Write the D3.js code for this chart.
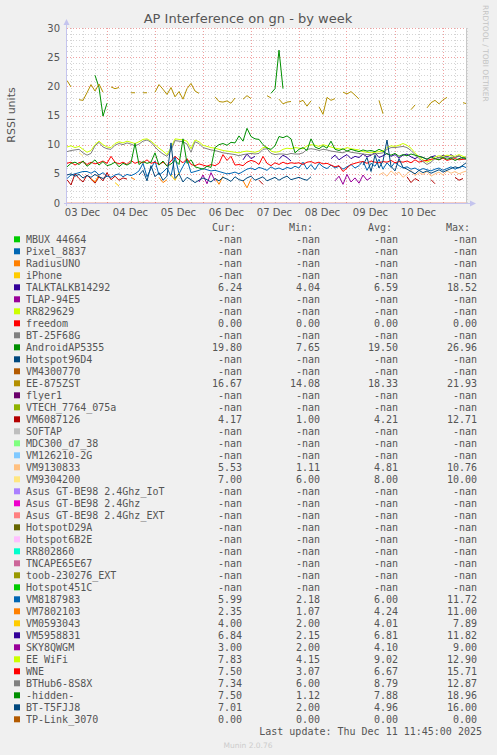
<!DOCTYPE html>
<html><head><meta charset="utf-8">
<script src="https://cdn.jsdelivr.net/npm/d3@7"></script>
<style>
html,body{margin:0;padding:0;background:#f0f0f0;}
svg{display:block;}
</style></head><body>
<script>
const _ = null;
const SLOTS = 101; // 2-hour slots across the week window

// ---- legend data ----
const names = ["MBUX 44664","Pixel_8837","RadiusUNO","iPhone","TALKTALKB14292","TLAP-94E5","RR829629","freedom","BT-25F68G","AndroidAP5355","Hotspot96D4","VM4300770","EE-875ZST","flyer1","VTECH_7764_075a","VM6087126","SOFTAP","MDC300_d7_38","VM126210-2G","VM9130833","VM9304200","Asus GT-BE98 2.4Ghz_IoT","Asus GT-BE98 2.4Ghz","Asus GT-BE98 2.4Ghz_EXT","HotspotD29A","Hotspot6B2E","RR802860","TNCAPE65E67","toob-230276_EXT","Hotspot451C","VM8187983","VM7802103","VM0593043","VM5958831","SKY8QWGM","EE WiFi","WNE","BTHub6-8S8X","-hidden-","BT-T5FJJ8","TP-Link_3070"];
const palette = ["#00CC00","#0066B3","#FF8000","#FFCC00","#330099","#990099","#CCFF00","#FF0000","#808080","#008F00","#00487D","#B35A00","#B38F00","#6B006B","#8FB300","#B30000","#BEBEBE","#80FF80","#80C9FF","#FFC080","#FFE680","#AA80FF","#EE00CC","#FF8080","#666600","#FFBFFF","#00FFCC","#CC6699","#999900"];
const N = "-nan";
const curVals = [N,N,N,N,"6.24",N,N,"0.00",N,"19.80",N,N,"16.67",N,N,"4.17",N,N,N,"5.53","7.00",N,N,N,N,N,N,N,N,N,"5.99","2.35","4.00","6.84","3.00","7.83","7.50","7.34","7.50","7.01","0.00"];
const minVals = [N,N,N,N,"4.04",N,N,"0.00",N,"7.65",N,N,"14.08",N,N,"1.00",N,N,N,"1.11","6.00",N,N,N,N,N,N,N,N,N,"2.18","1.07","2.00","2.15","2.00","4.15","3.07","6.00","1.12","2.00","0.00"];
const avgVals = [N,N,N,N,"6.59",N,N,"0.00",N,"19.50",N,N,"18.33",N,N,"4.21",N,N,N,"4.81","8.00",N,N,N,N,N,N,N,N,N,"6.00","4.24","4.01","6.81","4.10","9.02","6.67","8.79","7.88","4.96","0.00"];
const maxVals = [N,N,N,N,"18.52",N,N,"0.00",N,"26.96",N,N,"21.93",N,N,"12.71",N,N,N,"10.76","10.00",N,N,N,N,N,N,N,N,N,"11.72","11.00","7.89","11.82","9.00","12.90","15.71","12.87","18.96","16.00","0.00"];
const yTicks = [0,5,10,15,20,25,30];
const dayLabels = ["03 Dec","04 Dec","05 Dec","06 Dec","07 Dec","08 Dec","09 Dec","10 Dec"];

// ---- series values (2-hour slots, null = no data) ----
const eeWifi = [9.6,9.8,9.5,9.7,9.2,8.7,9.0,10.0,10.6,10.0,
 9.6,9.5,10.2,10.5,10.3,10.6,10.4,10.2,10.5,10.9,
 11.0,10.6,10.0,9.4,8.9,8.3,9.5,11.0,10.9,10.8,
 10.6,9.3,10.8,10.5,9.9,9.7,9.5,9.4,9.2,9.0,
 8.9,8.8,8.7,8.6,8.8,8.9,8.8,8.7,8.9,9.5,
 9.6,8.9,8.7,8.8,9.2,9.4,9.3,9.5,9.4,9.3,
 9.8,10.0,9.9,9.7,10.0,9.8,9.6,9.4,9.3,9.2,
 9.5,9.3,9.2,9.1,8.8,8.7,8.6,8.7,8.8,8.9,
 9.5,9.8,9.7,9.9,10.2,9.9,9.4,8.6,7.9,7.4,
 7.0,7.3,7.9,8.1,8.0,8.2,8.1,8.0,8.3,8.0,7.8];
const btHub6 = [8.8,9.0,9.1,9.2,8.6,8.2,8.5,9.8,10.4,9.6,
 9.3,9.2,9.9,10.2,10.0,10.3,10.1,9.8,10.1,10.6,
 10.8,10.4,9.6,8.9,8.4,8.0,9.0,10.7,10.6,10.5,
 10.1,8.7,10.5,10.2,9.5,9.3,9.1,9.0,8.8,8.6,
 8.5,8.4,8.3,8.1,8.3,8.4,8.5,8.4,8.5,9.2,
 9.3,8.5,8.3,8.4,8.4,8.3,8.5,8.4,8.4,8.6,
 9.2,9.3,9.2,9.0,9.2,9.1,8.9,8.8,8.7,8.6,
 8.9,8.7,8.6,8.5,8.4,8.3,8.3,8.4,8.5,8.6,
 9.2,9.5,9.5,9.6,9.7,9.5,9.0,8.3,7.6,7.1,
 6.6,7.0,7.6,7.8,7.8,7.9,7.8,7.8,8.0,7.7,7.4];
const hidden = [6.2,6.8,7.0,6.6,7.2,6.3,6.8,7.4,6.5,7.1,
 6.4,6.6,7.0,6.2,6.8,6.5,6.9,10.2,6.6,7.1,
 6.8,7.0,8.6,6.5,7.2,6.3,6.7,7.3,6.6,11.0,
 6.8,7.4,6.2,6.0,5.8,6.3,6.1,9.5,10.0,10.2,
 9.9,10.4,10.3,11.5,10.6,12.8,11.4,11.0,10.9,10.0,
 9.4,9.2,9.8,11.4,11.2,11.5,11.0,8.6,9.2,9.5,
 9.0,11.0,9.6,9.3,9.8,9.4,10.6,9.2,9.0,9.3,
 8.9,9.2,9.0,8.8,9.1,8.9,9.0,8.8,9.2,8.9,
 8.4,8.2,8.5,8.0,8.3,8.1,8.4,8.2,8.0,7.8,
 7.5,7.9,7.6,7.4,7.8,7.5,7.7,7.3,7.6,7.8,7.5];
const wne = [6.8,7.0,6.5,6.9,7.1,6.6,7.0,6.7,6.9,7.2,
 6.8,8.0,7.0,6.7,7.0,6.6,7.3,6.8,7.1,6.9,
 7.4,6.8,7.0,6.6,7.0,6.4,7.2,8.0,7.4,6.9,
 7.6,6.6,6.4,6.7,6.5,6.3,6.6,6.4,6.8,8.3,
 7.3,8.0,6.5,6.6,6.4,7.0,7.3,7.1,6.6,8.0,
 6.8,6.4,6.9,6.6,7.0,6.7,6.9,6.8,6.9,6.6,
 7.0,7.1,6.8,7.0,6.7,6.8,6.5,6.2,6.4,5.4,
 6.0,6.6,6.8,7.0,7.1,6.8,7.2,7.0,6.9,7.1,
 7.0,7.3,6.9,7.1,7.0,7.2,6.9,7.4,7.0,7.2,
 7.3,7.5,7.6,7.4,7.7,7.3,7.5,7.6,7.4,7.5,7.5];
const vm8187983 = [4.2,4.8,5.0,5.2,5.4,5.4,5.1,5.5,4.8,5.2,
 4.6,4.4,4.8,5.0,4.5,4.9,4.7,5.0,5.5,6.8,
 4.5,5.9,7.2,4.8,5.3,6.0,4.6,8.0,5.0,6.3,
 7.5,5.2,5.4,5.6,5.9,5.7,5.5,5.6,5.4,5.2,
 5.0,5.1,5.3,5.0,5.4,5.8,6.0,5.7,6.1,5.9,
 5.6,6.2,5.8,6.0,5.7,6.1,5.9,6.3,6.0,7.0,
 5.8,6.6,5.7,6.8,6.2,5.9,6.5,6.0,6.3,5.8,
 6.2,6.6,6.0,6.4,7.2,5.6,6.8,6.3,7.5,5.8,
 6.9,6.1,7.0,6.4,6.0,6.2,5.8,6.0,5.6,5.9,
 5.7,5.5,5.8,6.0,5.6,5.9,6.2,5.8,6.1,6.3,6.0];
const btT5fjj8 = [4.8,5.0,4.6,4.9,4.3,4.7,4.4,4.9,4.5,4.2,
 4.6,_,_,_,_,_,_,_,4.8,5.6,
 3.8,6.4,4.5,5.2,3.9,4.6,10.3,4.2,5.0,3.6,
 4.4,4.0,3.5,3.9,4.3,4.0,3.6,4.2,3.8,4.4,
 4.1,3.7,4.5,4.0,3.8,4.3,4.6,3.9,4.2,4.5,
 3.8,4.1,4.4,3.9,4.3,4.6,4.0,4.2,4.4,4.1,
 3.9,4.5,_,_,_,_,_,_,_,_,
 _,_,_,_,6.5,7.8,5.4,8.2,6.0,7.2,
 10.8,6.3,5.5,7.6,6.1,5.8,5.4,5.0,5.6,5.2,
 5.5,5.1,5.4,5.7,5.3,5.6,5.9,6.2,6.0,6.5,7.0];

// sparse series: [first slot, values...]
const vm6087126Segs = [[0,[4.0,3.1,5.0,4.2,3.6,4.8,4.1,3.4,4.5,3.8,5.2,4.0,4.6,3.9,4.3,4.1]],[48,[3.9,3.2]],[85,[4.5,3.5,4.2,3.8]],[91,[4.0,3.3]],[97,[4.4,3.9,4.2]]];
const vm7802103Segs = [[6,[4.2,3.6,4.8]],[16,[4.4,4.0]],[23,[4.4,3.5,4.0]],[37,[4.3,3.2,4.6]],[44,[3.8,2.6,4.1]]];
const vm0593043Segs = [[12,[3.5,2.9]],[26,[4.8,3.9,5.2]]];
const vm9304200Segs = [[3,[8.6,8.1]]];
const vm9130833Segs = [[78,[4.8,5.2,4.6,5.5,4.9,5.3,4.4,5.0,5.6,4.7,5.2,4.9,5.4,4.6,5.0,5.3,4.8,5.5,5.1,5.4,5.0,5.3,5.5]]];
const talktalkSegs = [[44,[7.4,8.4,7.6,8.0]],[53,[7.5,8.2,7.8,7.2]]];
const vm5958831Segs = [[66,[7.6,8.2,7.4,7.9,8.3,7.6,8.0,7.8,8.4,7.9,8.2,8.6,7.8,8.1,8.5,8.0,8.3,7.7,8.2,8.4,7.9,7.6,8.0,7.8,7.5,7.9,8.1,7.7,8.2,7.9,8.3,7.8,8.1,7.6,8.0]]];
const sky8qwgmSegs = [[33,[3.6,4.8,3.3,5.2,3.8]],[67,[3.8,4.6,3.2,4.9,3.6,4.3,3.4,4.8,3.9,4.4]]];
const ee875Segs = [[0,[21.0,19.9]],[3,[17.7,17.6]],[5,[18.9,20.3,19.2,20.4,19.0]],[11,[19.9,19.6,19.8]],[16,[18.9,18.9]],[19,[18.9,18.9]],
 [22,[19.0,20.3,19.5,18.6,19.8,18.2,19.1,17.8,19.6,20.5,19.2,18.8]],[37,[18.2,17.4,17.3,17.5,17.1,18.0]],[44,[17.8,18.4,17.9]],[50,[18.4,18.0]],
 [53,[17.8,17.0,17.3,17.4]],[58,[17.3,17.6,16.6,17.5]],[63,[16.5,15.2,18.1,17.6,17.9]],[69,[19.0,18.7,19.1,18.5,17.8]],[78,[17.6,15.3]],
 [86,[16.0,16.8]],[90,[16.3,17.2,17.6,17.0,17.7,18.1]],[99,[17.2,17.0]]];
const androidSegs = [[7,[21.9,19.8,14.9,17.1]],[51,[18.8,19.6,26.2,19.6]]];
const zeroSegs = [[0,[0,0,0,0,0,0,0,0,0,0,0,0,0,0,0,0,0,0,0,0,0,0,0,0,0,0,0,0,0,0,0,0,0,0,0,0,0,0,0,0,0,0,0,0,0,0,0,0,0,0,0,0,0,0,0,0,0,0,0,0,0,0,0,0,0,0,0,0,0,0,0,0,0,0,0,0,0,0,0,0,0,0,0,0,0,0,0,0,0,0,0,0,0,0,0,0,0,0,0,0,0]]];

function place(segs){
  const a = new Array(SLOTS).fill(null);
  segs.forEach(([s, vals]) => vals.forEach((v,k) => { a[s+k] = v; }));
  return a;
}
const seriesData = {
  "TALKTALKB14292": place(talktalkSegs),
  "freedom": place(zeroSegs),
  "AndroidAP5355": place(androidSegs),
  "EE-875ZST": place(ee875Segs),
  "VM6087126": place(vm6087126Segs),
  "VM9130833": place(vm9130833Segs),
  "VM9304200": place(vm9304200Segs),
  "VM8187983": vm8187983,
  "VM7802103": place(vm7802103Segs),
  "VM0593043": place(vm0593043Segs),
  "VM5958831": place(vm5958831Segs),
  "SKY8QWGM": place(sky8qwgmSegs),
  "EE WiFi": eeWifi,
  "WNE": wne,
  "BTHub6-8S8X": btHub6,
  "-hidden-": hidden,
  "BT-T5FJJ8": btT5fjj8,
  "TP-Link_3070": place(zeroSegs)
};

// ---- layout ----
const W = 497, H = 755;
const L = 67, R = 467, T = 28, B = 203;
const start = Date.UTC(2025,11,3,4,15);
const end = start + 200*3600*1000;
const times = d3.range(SLOTS).map(i => new Date(start + i*2*3600*1000));

const x = d3.scaleUtc().domain([new Date(start), new Date(end)]).range([L, R]);
const y = d3.scaleLinear().domain([0,30]).range([B, T]);

const svg = d3.select("body").append("svg").attr("width", W).attr("height", H);
svg.append("rect").attr("width", W).attr("height", H).attr("fill", "#f0f0f0");
svg.append("rect").attr("x", L).attr("y", T).attr("width", R-L).attr("height", B-T).attr("fill", "#ffffff");

const font = "DejaVu Sans, sans-serif";
const mono = "DejaVu Sans Mono, monospace";

// grid
const g = svg.append("g");
d3.range(1,31).forEach(v => {
  const major = v % 5 === 0;
  g.append("line").attr("x1", L).attr("x2", R).attr("y1", Math.round(y(v))+0.5).attr("y2", Math.round(y(v))+0.5)
    .attr("stroke", major ? "#f0a0a0" : "#d4d4d4").attr("stroke-dasharray", "1,2").attr("stroke-width", 1);
});
d3.utcHour.every(6).range(new Date(start), new Date(end)).forEach(t => {
  const major = t.getUTCHours() === 0;
  const xx = Math.round(x(t)) + 0.5;
  g.append("line").attr("x1", xx).attr("x2", xx).attr("y1", T).attr("y2", B)
    .attr("stroke", major ? "#f0a0a0" : "#d4d4d4").attr("stroke-dasharray", "1,2").attr("stroke-width", 1);
});

// series
svg.append("clipPath").attr("id","clip").append("rect").attr("x", L).attr("y", T-2).attr("width", R-L).attr("height", B-T+3);
const line = d3.line().defined(v => v != null).x((v,i) => x(times[i])).y(v => y(v));
const sg = svg.append("g").attr("clip-path", "url(#clip)");
names.forEach((n, i) => {
  const d = seriesData[n];
  if (!d) return;
  sg.append("path").datum(d).attr("d", line).attr("fill", "none")
    .attr("stroke", palette[i % palette.length]).attr("stroke-width", 1).attr("stroke-linejoin", "round")
    .attr("stroke-opacity", d.every(v => v === 0) ? 0.25 : 1);
});

// right border
svg.append("line").attr("x1", R-0.5).attr("x2", R-0.5).attr("y1", T).attr("y2", B).attr("stroke", "#c8c8c8");

// axes
const axisCol = "#c4c4ee";
svg.append("line").attr("x1", L-0.5).attr("x2", L-0.5).attr("y1", B+3).attr("y2", T-3).attr("stroke", axisCol);
svg.append("line").attr("x1", L-3).attr("x2", R+3).attr("y1", B+0.5).attr("y2", B+0.5).attr("stroke", axisCol);
svg.append("path").attr("d", `M${L-3.5},${T-3} L${L+2.5},${T-3} L${L-0.5},${T-9} Z`).attr("fill", axisCol);
svg.append("path").attr("d", `M${R+3},${B-2.5} L${R+3},${B+3.5} L${R+9},${B+0.5} Z`).attr("fill", axisCol);

// y tick labels
yTicks.forEach(v => {
  svg.append("text").attr("x", 60).attr("y", y(v)+3.5).attr("text-anchor", "end")
    .attr("font-family", font).attr("font-size", 10).attr("fill", "#555").text(v);
});
// x labels (centered at noon)
dayLabels.forEach((lab, k) => {
  const t = new Date(Date.UTC(2025,11,3+k,12,0));
  svg.append("text").attr("x", x(t)).attr("y", 216).attr("text-anchor", "middle")
    .attr("font-family", font).attr("font-size", 10).attr("fill", "#555").text(lab);
});

// title & labels
svg.append("text").attr("x", 248).attr("y", 23).attr("text-anchor", "middle")
  .attr("font-family", font).attr("font-size", 13).attr("fill", "#555").text("AP Interference on gn - by week");
svg.append("text").attr("transform", "translate(15,115) rotate(-90)").attr("text-anchor", "middle")
  .attr("font-family", font).attr("font-size", 11).attr("fill", "#555").text("RSSI units");
svg.append("text").attr("transform", "translate(483,5) rotate(90)").attr("text-anchor", "start")
  .attr("font-family", font).attr("font-size", 7.5).attr("fill", "#c4c4c4").text("RRDTOOL / TOBI OETIKER");

// legend
const lg = svg.append("g").attr("font-family", mono).attr("font-size", 10).attr("fill", "#555");
const heads = [["Cur:",236],["Min:",313],["Avg:",392],["Max:",470]];
heads.forEach(([h, hx]) => lg.append("text").attr("x", hx).attr("y", 227+3.5).attr("text-anchor","end").text(h));
names.forEach((n, i) => {
  const cy = 239.3 + i*12;
  lg.append("rect").attr("x", 14).attr("y", cy-3).attr("width", 6).attr("height", 6).attr("fill", palette[i % palette.length]);
  lg.append("text").attr("x", 26).attr("y", cy+3.5).text(n);
  [[curVals,242],[minVals,320],[avgVals,398],[maxVals,477]].forEach(([arr, vx]) => {
    lg.append("text").attr("x", vx).attr("y", cy+3.5).attr("text-anchor","end").text(arr[i]);
  });
});
lg.append("text").attr("x", 482).attr("y", 735).attr("text-anchor","end").text("Last update: Thu Dec 11 11:45:00 2025");
svg.append("text").attr("x", 248).attr("y", 748).attr("text-anchor","middle")
  .attr("font-family", font).attr("font-size", 7.5).attr("fill", "#cccccc").text("Munin 2.0.76");
</script>
</body></html>
